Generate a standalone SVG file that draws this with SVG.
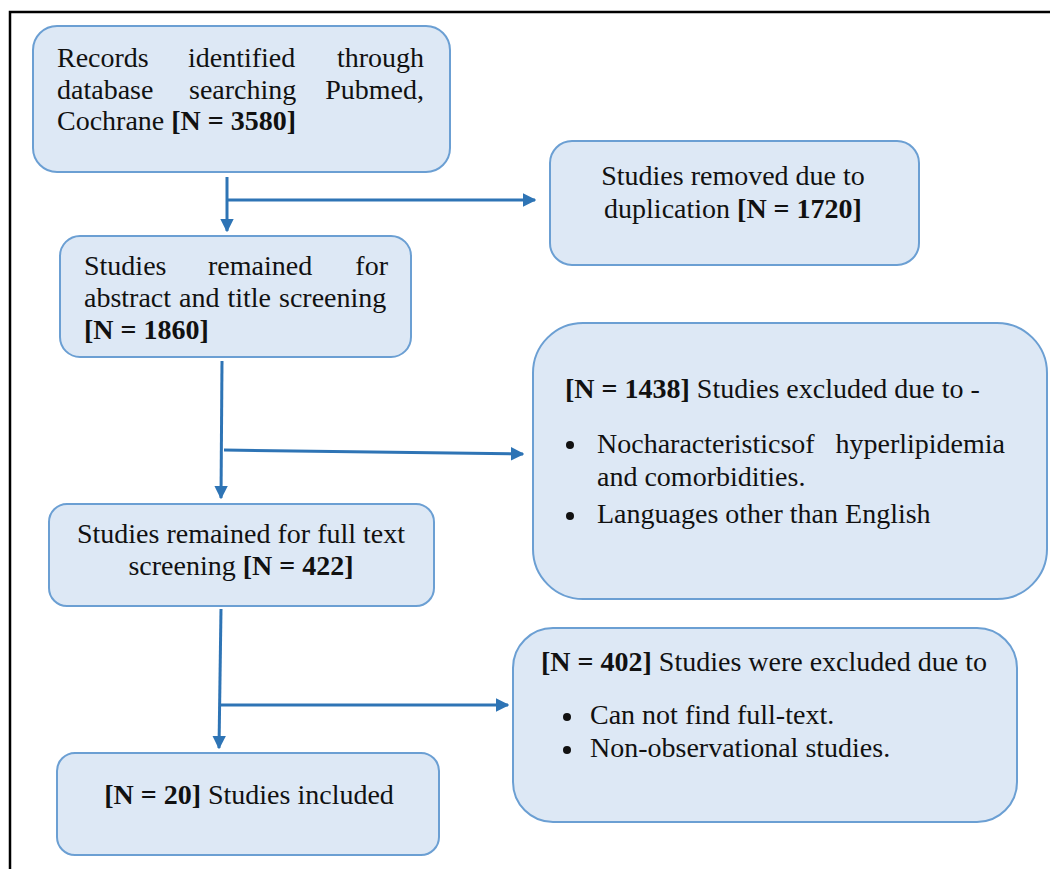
<svg xmlns="http://www.w3.org/2000/svg" width="1050" height="869" viewBox="0 0 1050 869">
<defs>
<style>
.box{fill:#dde8f5;stroke:#6b9fd3;stroke-width:2}
.t{font-family:'Liberation Serif','Times New Roman',serif;font-size:28px;fill:#111}
.b{font-weight:bold}
.c{text-anchor:middle}
.e{text-anchor:end}
.conn{stroke:#2e74b5;stroke-width:3;fill:none}
</style>
<marker id="ah" viewBox="0 0 10 10" refX="9" refY="5" markerWidth="4.5" markerHeight="4.5" orient="auto" markerUnits="strokeWidth">
<path d="M0,0 L10,5 L0,10 Z" fill="#2e74b5"/>
</marker>
</defs>
<rect width="1050" height="869" fill="#fff"/>
<rect x="10" y="12" width="1100" height="900" fill="none" stroke="#000" stroke-width="2.5"/>

<g id="connectors">
<line class="conn" x1="227" y1="177" x2="227" y2="231" marker-end="url(#ah)"/>
<line class="conn" x1="227" y1="200" x2="535" y2="200" marker-end="url(#ah)"/>
<line class="conn" x1="222" y1="361" x2="221" y2="498" marker-end="url(#ah)"/>
<line class="conn" x1="224" y1="450" x2="523" y2="454" marker-end="url(#ah)"/>
<line class="conn" x1="221" y1="609" x2="219" y2="748" marker-end="url(#ah)"/>
<line class="conn" x1="221" y1="705" x2="508" y2="705" marker-end="url(#ah)"/>
</g>

<g id="records">
<rect class="box" x="33" y="26" width="417" height="146" rx="24"/>
<text class="t" x="57" y="67">Records</text>
<text class="t" x="188" y="67">identified</text>
<text class="t e" x="424" y="67">through</text>
<text class="t" x="57" y="99">database</text>
<text class="t" x="189" y="99">searching</text>
<text class="t e" x="424" y="99">Pubmed,</text>
<text class="t" x="57" y="130">Cochrane <tspan class="b">[N = 3580]</tspan></text>
</g>

<g id="duplicates">
<rect class="box" x="550" y="141" width="369" height="124" rx="22"/>
<text class="t c" x="733" y="185">Studies removed due to</text>
<text class="t c" x="733" y="218">duplication <tspan class="b">[N = 1720]</tspan></text>
</g>

<g id="screening">
<rect class="box" x="60" y="236" width="351" height="121" rx="20"/>
<text class="t" x="84" y="275">Studies</text>
<text class="t" x="208" y="275">remained</text>
<text class="t e" x="388" y="275">for</text>
<text class="t" x="84" y="307" word-spacing="1">abstract and title screening</text>
<text class="t b" x="84" y="339">[N = 1860]</text>
</g>

<g id="excluded1">
<rect class="box" x="533" y="323" width="514" height="276" rx="50"/>
<text class="t" x="565" y="398"><tspan class="b">[N = 1438]</tspan> Studies excluded due to -</text>
<circle cx="570" cy="445" r="4" fill="#111"/>
<text class="t" x="597" y="453">Nocharacteristicsof</text>
<text class="t e" x="1005" y="453">hyperlipidemia</text>
<text class="t" x="597" y="486">and comorbidities.</text>
<circle cx="570" cy="516" r="4" fill="#111"/>
<text class="t" x="597" y="523">Languages other than English</text>
</g>

<g id="fulltext">
<rect class="box" x="49" y="504" width="385" height="102" rx="18"/>
<text class="t c" x="241" y="543">Studies remained for full text</text>
<text class="t c" x="241" y="575">screening <tspan class="b">[N = 422]</tspan></text>
</g>

<g id="excluded2">
<rect class="box" x="513" y="628" width="504" height="194" rx="40"/>
<text class="t" x="541" y="671"><tspan class="b">[N = 402]</tspan> Studies were excluded due to</text>
<circle cx="567" cy="717" r="4" fill="#111"/>
<text class="t" x="590" y="724">Can not find full-text.</text>
<circle cx="567" cy="750" r="4" fill="#111"/>
<text class="t" x="590" y="757">Non-observational studies.</text>
</g>

<g id="included">
<rect class="box" x="57" y="753" width="382" height="102" rx="18"/>
<text class="t c" x="249" y="804"><tspan class="b">[N = 20]</tspan> Studies included</text>
</g>
</svg>
